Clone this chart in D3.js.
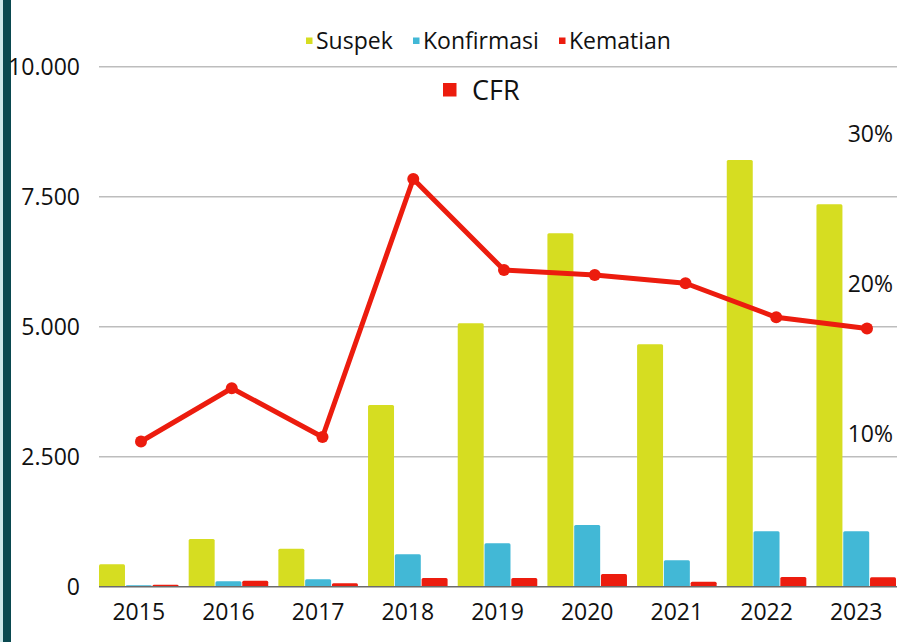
<!DOCTYPE html>
<html>
<head>
<meta charset="utf-8">
<script src="https://cdn.jsdelivr.net/npm/d3@7"></script>
<style>
  body { margin: 0; background: #fff; }
  svg { display: block; font-family: "Open Sans", sans-serif; }
</style>
</head>
<body>
<svg width="900" height="642"></svg>
<script>
var svg = d3.select('svg');

// data
var years = ['2015', '2016', '2017', '2018', '2019', '2020', '2021', '2022', '2023'];
var suspek = [431, 917, 731, 3494, 5065, 6796, 4662, 8205, 7354];
var konfirmasi = [27, 104, 142, 623, 834, 1187, 507, 1065, 1065];
var kematian = [38, 115, 65, 167, 167, 244, 96, 186, 180];
var cfr = [0.095, 0.1305, 0.098, 0.27, 0.2093, 0.206, 0.2005, 0.1778, 0.1704];
var seriesNames = ['Suspek', 'Konfirmasi', 'Kematian'];
var seriesColors = ['#d6dd21', '#42b8d6', '#ec1c0e'];
var leftTicks = [0, 2500, 5000, 7500, 10000];
var rightTicks = [0.1, 0.2, 0.3];

var series = [suspek, konfirmasi, kematian];

var locale = d3.formatLocale({decimal: ',', thousands: '.', grouping: [3], currency: ['', '']});
var fmt = locale.format(',');
var pct = d3.format('.0%');

// scales
var x = d3.scaleBand().domain(years).range([99, 896]).paddingInner(0.113).paddingOuter(0);
var xs = d3.scaleBand().domain(seriesNames).range([0, x.bandwidth()]).paddingInner(0.03);
var y = d3.scaleLinear().domain([0, 10000]).range([586.7, 66.7]);
var yR = d3.scaleLinear().domain([0, 0.4]).range([584, -16]);
var xLine = d3.scalePoint().domain(years).range([141, 867]);

// left strip
svg.append('rect').attr('x', 0).attr('y', 0).attr('width', 3).attr('height', 642).attr('fill', '#cde8ea');
svg.append('rect').attr('x', 3).attr('y', 0).attr('width', 8).attr('height', 642).attr('fill', '#0a4950');

// gridlines
svg.append('g')
  .selectAll('line')
  .data(leftTicks.filter(function(d){ return d > 0; }))
  .enter()
  .append('line')
  .attr('x1', 99)
  .attr('x2', 897)
  .attr('y1', function(d){ return y(d); })
  .attr('y2', function(d){ return y(d); })
  .attr('stroke', '#bdbdbd')
  .attr('stroke-width', 1.5);

// left labels
svg.append('g')
  .selectAll('text')
  .data(leftTicks)
  .enter()
  .append('text')
  .attr('x', 80)
  .attr('y', function(d){ return y(d); })
  .attr('dy', '0.36em')
  .attr('text-anchor', 'end')
  .attr('font-size', 23)
  .attr('fill', '#111')
  .text(function(d){ return fmt(d); });

// right labels
svg.append('g')
  .selectAll('text')
  .data(rightTicks)
  .enter()
  .append('text')
  .attr('x', 893)
  .attr('y', function(d){ return yR(d); })
  .attr('dy', '0.36em')
  .attr('text-anchor', 'end')
  .attr('font-size', 23)
  .attr('fill', '#111')
  .text(function(d){ return pct(d); });

// bars
var groups = svg.append('g')
  .selectAll('g')
  .data(years)
  .enter()
  .append('g')
  .attr('transform', function(d){ return 'translate(' + x(d) + ',0)'; });

groups.selectAll('rect')
  .data(function(d, i){
    return seriesNames.map(function(name, j){ return {name: name, value: series[j][i], color: seriesColors[j]}; });
  })
  .enter()
  .append('rect')
  .attr('x', function(d){ return xs(d.name); })
  .attr('width', xs.bandwidth())
  .attr('y', function(d){ return y(d.value); })
  .attr('height', function(d){ return y(0) - y(d.value); })
  .attr('rx', 1.5)
  .attr('fill', function(d){ return d.color; });

// baseline
svg.append('line')
  .attr('x1', 99).attr('x2', 897)
  .attr('y1', y(0)).attr('y2', y(0))
  .attr('stroke', '#6b6b6b')
  .attr('stroke-width', 1.5);

// x labels
svg.append('g')
  .selectAll('text')
  .data(years)
  .enter()
  .append('text')
  .attr('x', function(d){ return x(d) + x.bandwidth() / 2; })
  .attr('y', 620)
  .attr('text-anchor', 'middle')
  .attr('font-size', 23)
  .attr('fill', '#111')
  .text(function(d){ return d; });

// CFR line
var line = d3.line()
  .x(function(d, i){ return xLine(years[i]); })
  .y(function(d){ return yR(d); });

svg.append('path')
  .datum(cfr)
  .attr('d', line)
  .attr('fill', 'none')
  .attr('stroke', '#ec1c0e')
  .attr('stroke-width', 5)
  .attr('stroke-linejoin', 'round');

svg.append('g')
  .selectAll('circle')
  .data(cfr)
  .enter()
  .append('circle')
  .attr('cx', function(d, i){ return xLine(years[i]); })
  .attr('cy', function(d){ return yR(d); })
  .attr('r', 6)
  .attr('fill', '#ec1c0e');

// legend top
var legX = [306, 413, 559];
var leg = svg.append('g')
  .selectAll('g')
  .data(seriesNames)
  .enter()
  .append('g')
  .attr('transform', function(d, i){ return 'translate(' + legX[i] + ',0)'; });

leg.append('rect')
  .attr('x', 0).attr('y', 37.5)
  .attr('width', 6.5).attr('height', 6.5)
  .attr('fill', function(d, i){ return seriesColors[i]; });

leg.append('text')
  .attr('x', 10)
  .attr('y', 49)
  .attr('font-size', 23)
  .attr('fill', '#111')
  .text(function(d){ return d; });

// legend CFR
svg.append('rect')
  .attr('x', 443).attr('y', 83)
  .attr('width', 13.5).attr('height', 13.5)
  .attr('fill', '#ec1c0e');
svg.append('text')
  .attr('x', 472)
  .attr('y', 100)
  .attr('font-size', 27)
  .attr('fill', '#111')
  .text('CFR');
</script>
</body>
</html>
